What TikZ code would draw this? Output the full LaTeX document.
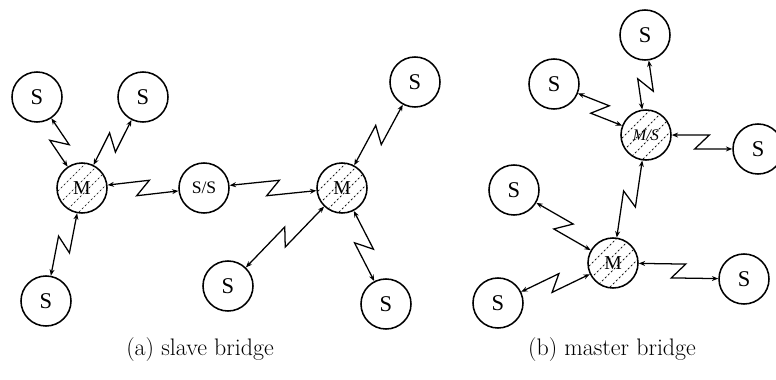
\documentclass[tikz,border=0pt]{standalone}
\usepackage{fontspec}
\usetikzlibrary{calc,arrows.meta}
\newfontfamily\nodefont{Liberation Serif}

\tikzset{
	unit/.style={draw, circle, line width=1.1pt, minimum size=1.25cm, inner sep=0pt,
		font=\nodefont\fontsize{16}{18}\selectfont},
	master/.style={unit, path picture={
		\foreach \o in {-21,-7,7,21}
		\draw[dash pattern=on 1.5pt off 1.5pt, line width=0.5pt]
			($(path picture bounding box.center)+(\o-30,30)$) -- ++(60,-60);
		}},
	radio/.style={line width=0.9pt, {Stealth[length=4.5pt,width=3.5pt]}-{Stealth[length=4.5pt,width=3.5pt]}},
	zz/.style={to path={
		-- ($(\tikztostart)!0.5!(\tikztotarget)!4.5pt!(\tikztotarget)!5.5pt!90:(\tikztotarget)$)
		-- ($(\tikztostart)!0.5!(\tikztotarget)!-4.5pt!(\tikztotarget)!5.5pt!-90:(\tikztotarget)$)
		-- (\tikztotarget)}}
}

\begin{document}
\begin{tikzpicture}[x=0.025cm, y=-0.025cm]
	\useasboundingbox (0,0) rectangle (776,380);

	% (a) two piconets joined by a slave
	\node[unit] (sa1) at (37,97) {S};
	\node[unit] (sa2) at (143,97) {S};
	\node[master, font=\nodefont\fontsize{14}{16}\selectfont] (ma) at (82,188) {M};
	\node[unit] (sa3) at (46,301) {S};
	\node[unit, font=\nodefont\fontsize{12.5}{14}\selectfont] (ssa) at (204,188) {S/S};
	\node[master, font=\nodefont\fontsize{14}{16}\selectfont] (mb) at (342,188) {M};
	\node[unit] (sa4) at (415,82) {S};
	\node[unit] (sa5) at (228,286) {S};
	\node[unit] (sa6) at (386,304) {S};

	\draw[radio] (sa1) to[zz] (ma);
	\draw[radio] (sa2) to[zz] (ma);
	\draw[radio] (ma) to[zz] (sa3);
	\draw[radio] (ma) to[zz] (ssa);
	\draw[radio] (ssa) to[zz] (mb);
	\draw[radio] (mb) to[zz] (sa4);
	\draw[radio] (mb) to[zz] (sa5);
	\draw[radio] (mb) to[zz] (sa6);

	% (b) the bridge is master of its own piconet
	\node[unit] (sb1) at (645,35) {S};
	\node[unit] (sb2) at (554,84) {S};
	\node[master, font=\nodefont\itshape\fontsize{11.5}{13}\selectfont] (msb) at (646,135) {M/S};
	\node[unit] (sb3) at (758,149) {S};
	\node[unit] (sb4) at (514,190) {S};
	\node[master, font=\nodefont\fontsize{14}{16}\selectfont] (mc) at (613,263) {M};
	\node[unit] (sb5) at (498,303) {S};
	\node[unit] (sb6) at (744,279) {S};

	\draw[radio] (sb1) to[zz] (msb);
	\draw[radio] (sb2) to[zz] (msb);
	\draw[radio] (msb) to[zz] (sb3);
	\draw[radio] (msb) to[zz] (mc);
	\draw[radio] (sb4) to[zz] (mc);
	\draw[radio] (mc) to[zz] (sb5);
	\draw[radio] (mc) to[zz] (sb6);

	\node[font=\fontsize{17}{20}\selectfont] (capa) at (200,350) {(a) slave bridge};
	\node[font=\fontsize{17}{20}\selectfont] (capb) at (612,350) {(b) master bridge};
\end{tikzpicture}
\end{document}
